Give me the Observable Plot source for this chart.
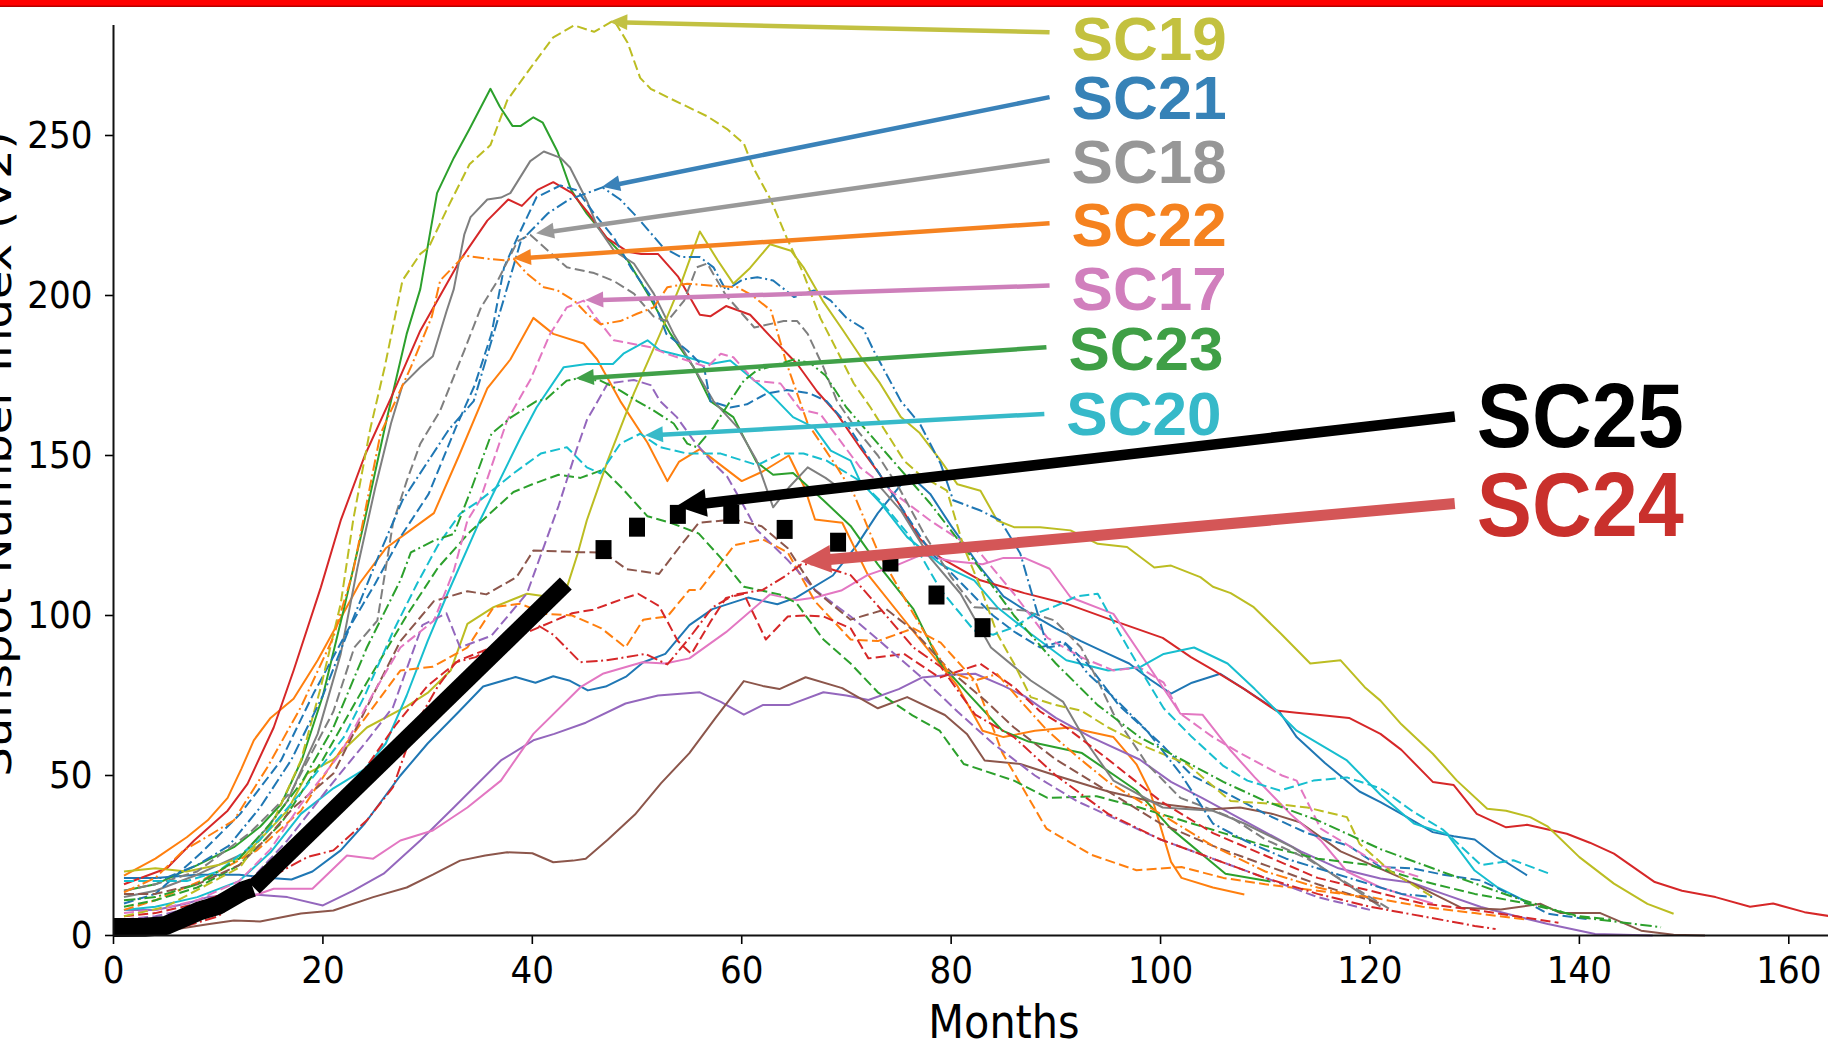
<!DOCTYPE html>
<html><head><meta charset="utf-8">
<script src="https://cdn.jsdelivr.net/npm/d3@7"></script>
<script src="https://cdn.jsdelivr.net/npm/@observablehq/plot@0.6"></script>
<style>
html,body{margin:0;padding:0;background:#fff;}
#wrap{position:relative;width:1828px;height:1043px;overflow:hidden;background:#fff;}
#topbar{position:absolute;left:0;top:0;width:1823px;height:7px;background:linear-gradient(#ff0000 0%,#ff0000 65%,#a00000 100%);z-index:2;}
#wrap svg{position:absolute;left:0;top:0;max-width:none;}
</style></head><body><div id="wrap"><div id="topbar"></div></div>
<script>
// ---- Solar cycles SC1..SC24: [month, sunspot number] ----
const sc01 = [[1,18],[4,18],[8,19],[12,19],[15,18],[17,17.5],[19,20],[21.7,26.6],[24,35],[27.4,50],[30,60],[33,70],[35.3,77.8],[38.4,80.8],[40.3,79],[42,81],[43.6,79.6],[45.3,76.6],[47,77.8],[49,81],[50.6,85.4],[52.7,88],[55,97],[57.2,102],[60.6,105.6],[63.4,103.5],[65.2,105.6],[68.7,112.5],[71,122],[73,132],[76,144],[78,138],[80,128],[82.8,115],[85,106],[87.6,100.5],[90,96],[92.4,92],[95,88],[97,85],[99,80],[101,75.6],[103,79],[105.7,81.8],[108,77],[111.4,69.7],[113,62],[115.7,53.9],[119,45],[121,41.7],[123,38],[126,32.3],[128,31],[130,30],[132,25],[135,18.8]];
const sc02 = [[1,18.7],[4,24],[7,30.7],[9,36],[10.9,43],[12.2,52],[13.4,61],[15,68],[17.2,74],[19.5,86],[21.5,98],[23.5,110],[26,121],[28.5,127],[30.6,132],[33,150],[35.7,171],[37.9,180],[40.1,193],[42,188],[44.9,185],[46.2,180],[48.4,167],[51,154],[52.9,142],[54,148],[56,152],[58,147],[60,142],[62,145],[64.5,150],[66,140],[67,130],[69.6,129],[72,113],[76.4,95],[80.6,78],[83,64],[85,62],[88,64],[91.3,65],[95.5,62],[97.7,53.5],[99,45],[101,23],[102,18],[105,15],[108,12.8]];
const sc03 = [[1,14],[4,16],[8,22],[11.5,27.6],[14,34],[16,41],[18,55],[20,75],[22,102],[24,130],[26,160],[28,188],[29.3,202],[30.9,232],[32.5,243],[34,252],[36,264.6],[36.9,259],[38.1,253],[38.9,253],[40.1,255.7],[41,254],[42.4,245],[43.7,233],[45.2,225.6],[47.1,218],[49.1,211],[51,200.6],[53.2,188],[55.4,177.6],[57,167],[59.2,162],[61.4,148],[63,144],[64.9,144.5],[67.8,136],[70.4,128],[73,116],[76.4,102],[78.9,85.4],[81.5,76],[84.9,64],[87.4,60.6],[92.5,57],[97.7,45.3],[101,33.4],[106.2,19.3],[110.5,16.9]];
const sc04 = [[1,16],[5.1,21],[7.7,29.7],[10.9,39],[12.8,47.4],[15.3,65],[17.2,82.8],[19.8,108.8],[21.7,129.7],[24,150],[26.5,168],[29.3,189],[33.1,211],[35.7,223.4],[37.7,230],[39,228],[40.5,233],[42,235.4],[43.8,232],[45.3,226],[47.1,218],[49.1,213.7],[50.4,213],[52,213],[53.9,206],[56,194],[57,193.5],[58.5,196.7],[60.8,194],[62.8,187],[65.3,178.6],[67.2,170],[69.1,163],[71.3,152.5],[73.2,144],[75,135],[77,124],[79,118],[82.8,111],[87,107],[91,103.7],[95.5,98.4],[100.2,93],[102.9,87],[105,83],[108,77],[111,70.3],[113,69.6],[115,69],[118,68],[121,63],[123,58],[126,48],[128,47],[130.2,38],[133,33.8],[135,34.6],[138.8,31.8],[141,29],[143.3,25.6],[147.2,16.7],[149.8,14],[153,12],[156.3,9],[158.5,10],[161.5,7.3],[164,6]];
const sc05 = [[1,8],[4,8],[7,10],[9,12],[12.8,13],[16.6,12],[20,9.4],[22.9,14],[25.8,19.3],[29.3,29.7],[32.5,40],[37,54.7],[40.1,61],[42.1,63],[45.1,66.5],[48.9,72.5],[52,75],[56,76],[58,73],[60.2,69],[62,72],[64.5,72],[67.8,76],[70,75],[72.1,73.6],[75,77],[77.2,80.6],[80,81.5],[82.3,81.8],[85,78],[87,74.8],[90,68],[93.4,61.9],[98,55],[101,48],[104,42.9],[108,35.8],[113.4,26.3],[117,21],[121,17.8],[124,16.5],[127,13],[130.6,8.9],[134,6],[137,3.6],[141.5,0.5],[147,0]];
const sc06 = [[1,0.5],[4,1],[6.4,2.2],[9,3.5],[11.5,4.7],[14,4.4],[17.9,6.9],[21,7.8],[24.8,12],[28,15],[30.5,19],[33.1,23.4],[35.5,25],[37.6,26],[40,25.7],[42,22.9],[43.9,23.4],[45.1,24],[47.2,29.9],[49.8,37.8],[52.3,47.6],[55,57],[57.5,68],[60.2,79.5],[62,78],[63.6,77],[66.1,80.7],[69.6,77.3],[73,71],[75.8,74.5],[79.4,68.9],[81.5,63],[83.2,54.7],[86.6,53.6],[90,50],[95,45],[100.3,41],[104.4,39.4],[107.6,40],[110.7,38],[113.3,35.4],[117.2,26.3],[123,18],[128.7,8.7],[132.5,8.1],[136.3,9.9],[138.2,7],[142,7],[145.9,1.5],[149,0.2],[152,0]];
const sc07 = [[1,1],[4,2],[8,5],[11,9],[13,12],[15.3,14.6],[19,14.6],[22.3,25],[24.8,24],[27.4,29.7],[30.5,32.8],[33.8,40],[37,48.4],[40.1,63],[44.6,77.6],[46.8,81.9],[50.5,85.4],[52.7,85],[55,86.6],[58.5,94.8],[62.7,106.6],[65.2,104.8],[67,105.6],[69.5,107.8],[72,112.6],[75,116],[77.2,119],[80,117],[83,116],[85,118],[87,118],[89.4,114.6],[91.4,105.7],[95.5,100.5],[98.7,85],[101.9,69.3],[104,69],[106.7,57.8],[109,49.4],[112.4,38],[115.3,29.7],[117.8,20],[121,15],[124,12],[126,10]];
const sc08 = [[1,12],[4,14],[8,19],[12.4,25.6],[14.5,33],[16.6,42],[19.5,63],[21.7,88],[23.3,115],[25,140],[26.5,160],[27.6,172],[29.3,177.6],[30.5,181],[31.8,195],[32.5,202],[33.5,219],[34.1,224.5],[35.7,230],[37,230.6],[37.9,232],[39.8,242],[41.1,245],[42.7,243],[43.6,240],[45.2,229.7],[46.2,221.6],[47.8,214],[49.7,210],[51.6,200.6],[53.5,188],[55.4,177.6],[57.3,167],[59.6,158.8],[61.4,148.6],[63,133.8],[64.5,140],[66.3,146.3],[68,143],[69.7,139],[71.5,140],[73,141],[75.2,132.8],[78,118],[80.9,106.8],[83.8,90],[87.6,79.7],[90.7,73],[93,60],[95.5,48.4],[100.2,40],[105,39],[108,35],[112.6,27.6],[116,20],[121,9]];
const sc09 = [[1,20],[4,21],[7,20],[10,22],[12.4,24.5],[16.6,39],[18.5,50.6],[21,55],[24.2,65],[28,71.6],[30,75.8],[32.2,82.8],[33.8,97.4],[36.3,102.6],[39.5,106.8],[42,105.6],[43.3,108.8],[44.3,119],[45.2,129.7],[47.2,148.4],[49.7,169.4],[52.2,188],[54.2,203.7],[56,220],[57.7,211],[59.2,203.7],[60.8,208.6],[62.7,216],[64.7,214],[65.9,208.8],[67.8,198],[69.7,189],[71.6,179.7],[73.2,172.6],[75.2,162],[77,157],[79,148.4],[80.6,141],[82.8,139],[84.4,129.7],[86,127.6],[88.5,127.6],[91.4,126.6],[94,122.4],[96.8,121.4],[99.4,115],[101,115.6],[103.8,112],[105,109],[106.7,107],[108.9,102.6],[111.5,94.3],[114.3,85],[117.2,86],[119.5,77.6],[121,73.4],[123,66],[126,56.8],[128.3,48.4],[131.2,39.6],[133,39],[135.3,37],[137,34],[140,24.5],[143.3,16.2],[146.5,9.9],[149,6.8]];
const sc10 = [[1,8],[4,9],[8,12],[12,17],[15,26],[17.9,38],[21,46],[24,52],[26,60],[28,75],[30,92],[31.9,106.8],[35,129.7],[38.9,155.7],[40.4,165],[43,177.6],[45.2,178.6],[47.7,178.6],[48.7,181.8],[51,186],[52.2,182.8],[54.8,180.7],[57,178.6],[58.9,179.7],[60.8,174.5],[62.7,169.4],[64.9,162],[66.9,158.8],[68.5,151.5],[70.4,148.4],[71.3,142],[73.3,135],[75.8,124.5],[79,116],[82.2,111],[84.4,102.6],[87.6,94.3],[91,86],[95,82.8],[98,83.8],[100.3,88],[103.2,90],[106.4,85],[109,77],[113,64],[117.8,54.7],[121,44],[124.2,35],[127.4,31.6],[130,20.3],[132.2,15],[134.7,11]];
const sc11 = [[1,10],[4,13],[8.3,25.6],[12.1,38],[16,54.7],[19.1,75.6],[22.3,95],[25,110],[27.5,125],[30.1,138],[32.7,158.8],[34.5,172],[36.1,188],[37.3,208.8],[38.7,219],[40.4,230.7],[42.7,234.4],[44.3,232.8],[45.9,225.6],[47.8,218],[49.4,208.8],[51.6,198.4],[52.8,188],[54.8,182.8],[56.4,177.6],[57,167],[58.9,165],[60.5,166],[62.4,169.4],[64.3,170.5],[66.5,169.4],[68.1,167],[70,160],[72,150],[74,140],[76,130],[78,120],[81,110],[84,100],[86,95],[88.5,90],[90.7,92],[93,85],[96,72],[100,60],[103,50],[106,45],[110,38],[114,32],[118,28],[121,21.4],[124,21],[127,19],[130.6,17.2],[134,12],[137,6.8],[141,5]];
const sc12 = [[1,8],[4,11],[8.3,17],[13.7,26.6],[17.9,39],[21.7,57.8],[24.5,70],[27.4,82.8],[30.5,84],[33.8,90],[36.3,102.6],[38.8,103.7],[41.3,100.5],[43.8,100],[46.6,96],[48.9,90],[50.6,98.7],[52.9,99.7],[55,108],[56,108],[59.3,122],[62,123.8],[64.4,119.7],[67,104.4],[70.4,92.5],[73,92],[76.4,96],[79,91.5],[82.3,79.5],[84.9,57],[89.1,33.4],[93.4,25.2],[97.7,20.4],[102,21.4],[106,18],[110,16],[115,14],[120,12],[125,9],[130,7],[135,5]];
const sc13 = [[1,9],[4,11],[8,15],[12,22],[16,35],[20,55],[24,78],[28,100],[31,115],[34,126],[36,132],[38.2,138.6],[40,141],[42.5,144],[44.6,143],[46.8,145.6],[48.6,139.7],[51,131],[53.2,129],[55.9,125.6],[58,118],[60.2,109],[63.6,106.6],[65.2,104],[67.8,92.5],[70.4,85],[73,76],[76.3,68.8],[78.9,64],[81.2,53.6],[86,48.4],[89.2,43],[93.9,43.5],[98,40],[102,36],[106,32],[110,28],[115,24],[120,22],[125,17],[130,13],[135,10],[140,6],[143,5]];
const sc14 = [[1,6],[4,7],[8,10],[12,15],[16,24],[20,36],[24,52],[27,66],[30,78],[33,86],[36.1,90],[40.4,96],[43.8,100.7],[45.8,101.8],[48.9,105.5],[50.1,106.8],[52.1,103],[53.9,92],[55.2,88],[57,98],[58.5,105.5],[60.2,106.8],[62.3,92.5],[64.4,99.7],[66,100],[67.8,99.7],[70.4,96],[72.1,86.6],[75.5,88],[78.9,80.6],[82.8,84.9],[86,77.6],[88.5,70],[91,65],[95,55],[100,42],[105,32],[110,25],[115,18],[120,14],[125,10],[130,8],[134,6],[138,4]];
const sc15 = [[1,5],[4,6],[8,9],[13,17],[16.6,29.7],[20.5,46],[24,60],[26.7,71.4],[29.5,97],[31.8,100.7],[33.1,90],[36.1,93.7],[39.5,107],[42.5,134.2],[44.2,151.6],[45.2,161],[47.2,172.5],[49.7,173.6],[51.3,172],[52.2,167],[53.8,162],[55.4,154.7],[57,148.6],[58.6,143.4],[59.9,136],[61.4,126.9],[64.4,117.3],[67,108],[70.4,99.7],[73,92.5],[77.2,80.6],[80.6,70],[84,60],[88,50],[92,42],[96,36],[100,30],[105,24],[110,18],[115,12],[120,8]];
const sc16 = [[1,13],[4,13],[8,16],[12,22],[14.5,30],[17.2,40],[21,50.6],[24.2,71.4],[27.4,92],[30.6,104.5],[33.8,107.6],[35.6,106.6],[38.5,112],[40.1,120.3],[44.6,119.8],[46.8,119.7],[49,114.5],[52.1,113],[54.2,122],[55.9,129],[59.3,130],[61.9,127.9],[64.4,121],[67,107.8],[70.4,98.7],[73.8,102],[76.4,95.3],[79.8,83],[83.2,73.6],[86,65],[90,55],[95,45],[100,35],[105,28],[110,22],[115,16],[121,10]];
const sc17 = [[1,7],[4,8],[8,11],[12,17],[15,27],[17.9,41],[21.7,57],[24.8,75.6],[27.4,90],[30.6,98.4],[32.5,114],[33.8,129.7],[35,136],[37.6,161],[39.8,173.6],[41.7,188],[43.3,196.3],[44.9,198.4],[46.1,193],[47.8,186],[49.4,185],[51.3,183.8],[52.8,181.8],[54.8,179.7],[56.7,177.6],[58,181.8],[59.2,180.7],[61.2,173.4],[63.7,172.5],[65.6,164.4],[67.5,163],[71.3,146.3],[73.8,140],[78,129.7],[82.8,119.4],[86,106.8],[89.2,93],[92.4,87],[95.5,82.8],[98,83.8],[100.3,79],[101.9,69.3],[105,62],[107.6,57],[111.6,50],[113,48.4],[115.3,33.4],[118,28],[121,22],[125,18]];
const sc18 = [[1,14],[4,16],[8,20],[13,32],[17,45],[21,70],[23,90],[25.2,98.4],[26.7,129],[28,142],[29.3,153.7],[31.2,164],[33.5,182.8],[35.1,196.3],[36.7,204.7],[38.6,217],[39.8,219],[41.5,214],[43.3,208.8],[45.9,207],[47.8,204.5],[49.7,200.6],[51.6,193.4],[52.9,192],[54.5,198.4],[55.7,208.8],[56.7,210],[58.5,200],[61.2,190],[64,192],[65.3,192],[66.3,188],[67.8,177.6],[69.1,167],[71,158],[73,150],[75,140],[77.5,125],[80,112],[82.2,102.6],[87,101.6],[89.9,98.4],[92.4,90],[94,79.7],[95.5,69.3],[98.7,53.6],[101.9,43],[106.7,37],[110,30],[114,24],[118,16],[122,8]];
const sc19 = [[1,6],[5,9],[9,16],[12.1,21.4],[15.3,36],[17.9,54.7],[19.8,77.6],[21.7,103.7],[22.9,130],[24.5,158],[25.9,177.6],[27.6,204.7],[29.3,213],[30.1,215],[32,228],[34,241],[36,247],[37.6,261],[39.8,271],[42,280.7],[44,284.4],[45.9,282.4],[47.8,286],[49.1,279],[50.3,268],[51.3,264.6],[52.9,262],[54.8,259],[56.7,256],[58.6,252],[60.2,247.5],[61.1,240],[62.8,229.7],[64.3,218],[65.9,206.8],[67.5,193],[69.1,182.8],[70.7,172.5],[72.3,165],[75.5,148.4],[77,144],[79.6,139],[81.2,121.4],[82.8,108.8],[84.4,94.3],[86,85],[87.6,74.5],[90,72],[92.4,70.3],[95,65],[98.7,58.8],[102.5,53.6],[106.7,42],[111.4,41],[114,40],[117.8,37],[119,28.7],[122,20],[126,12]];
const sc20 = [[1,17],[4,17],[7,17],[10,20],[14,30],[18,45],[22,62],[24,75],[26.7,95],[29,110],[31,122],[33.1,131.8],[35,136],[38.2,144.4],[40.8,150.6],[43.3,152.6],[45.2,146.3],[46.5,144.4],[48.4,153.7],[50.3,156.8],[52.2,152.6],[54.8,150.6],[58,150.6],[59.9,148.6],[61.5,147],[63.7,150.6],[65.9,150.6],[68.1,148.4],[71.3,142],[73.2,136],[76,125],[79,108],[82.2,95.3],[84,94],[86,96.3],[88,100.5],[90,103],[92,106],[94,106.8],[96,95],[98.7,79.7],[100.3,71],[103,62],[106,53],[108.3,48.4],[111.4,45.3],[114.6,48.4],[117.8,49.4],[121,46],[124,39],[127,33],[130.6,22],[133.7,23.5],[137,19.5]];
const sc21 = [[1,18],[5,18],[8,22],[11,28],[14,40],[17,55],[20,75],[23,100],[25.5,120],[27.6,136],[30,148],[32,158],[34.4,167],[37.2,198],[38.9,217],[41.5,225.7],[43.5,230],[45.9,232.8],[46.7,233.8],[48.4,230],[50,224.5],[52.5,215],[54.2,212],[56,212],[57.3,208.8],[58.5,201.6],[60.1,205],[61.5,205.7],[63,204.7],[65,199.5],[66.9,201.6],[68.5,198.4],[70,193],[71.6,189.7],[72.6,182.8],[75.2,167],[77,160],[79,147.4],[80.2,136],[82.8,132.8],[84.7,129.7],[86.6,119.4],[89.2,90],[91,91],[93,82],[95.5,74.5],[98.7,64],[101.9,50.6],[105,35],[108.2,29.4],[112,24],[116,20],[120,16],[123,13],[126,12]];
const sc22 = [[1,13.5],[4,18],[6.7,26.6],[9,31],[11.5,36],[14.7,52.6],[17.9,71.4],[21,93.2],[22.9,114],[25.5,156.8],[28.4,177.6],[30.4,193.4],[31.2,204.7],[33.5,212.5],[35.7,211.5],[37.3,211],[38.2,211.5],[39.5,206.8],[41.1,202.6],[42.4,201.6],[44,198.4],[45.2,194.3],[46.5,191],[48.4,192],[50,194.3],[51.6,196.3],[52.9,202.6],[54.8,203.7],[57.3,203],[59.6,202.6],[61,200],[62.8,195.3],[64.3,178.6],[66.3,160],[69.1,146.3],[70.7,138],[73,120],[76.4,100.5],[79.6,82.8],[82.2,79.6],[84.4,81.7],[86.6,73.4],[89.2,64],[92,56],[95,48],[100,38],[105,28],[110,20],[115,15],[119,12]];
const sc23 = [[1,11],[4,12],[8,16],[12,24],[15,35],[18,48],[21,65],[24.2,90],[27.4,111],[28.4,119.7],[30.6,123.4],[32.5,125.5],[34,138],[36.1,156.8],[38,162],[40.4,167],[41.3,167.6],[43.3,173.4],[44.2,174],[46.5,173.4],[48.4,170.3],[50,167],[51.6,164],[53.5,160],[54.8,153.7],[55.7,152.6],[57.3,158.8],[58.9,167],[60.2,173.4],[61.4,176.5],[63,178],[65,180],[66.5,179],[68,175],[70,165],[74,150],[78,135],[82,118],[86,100],[90,85],[94,72],[98,62],[102,55],[106,48],[110,42],[115,36],[121,27],[127.4,19.3],[133.7,12],[140,5.7],[147.8,2.6]];
const sc24 = [[1,2.5],[4,2.5],[7,3],[10,6],[13.4,15],[16,20],[18.5,24.5],[21,26.6],[24.2,36],[26.7,46.4],[28.7,65],[31,78],[32.7,85.4],[34.6,87],[36,90],[38.2,96],[40,98],[42,94],[44.6,85.4],[47,86],[49,87],[50.8,88],[52.9,84.7],[55,93],[57.2,102.5],[59.3,106.5],[62,108],[64,112],[65.7,116],[67,116],[70.4,112.6],[73,103],[76.4,90],[79,84],[82.3,69],[86,62],[90,50],[95,38],[100,30],[105,24],[110,18],[115,13],[120,9],[125,6],[130,3],[132,2]];

// ---- SC25: observed start, trend line and forecast squares ----
const sc25Observed = [[0,2.5],[3,2.6],[5,3.1],[8.3,7.8],[10,9.4],[12.4,14],[13.3,15]];
const sc25Trend = [[13.4,15],[43.2,110]];
const sc25Forecast = [[46.8,120.6],[50,127.6],[53.9,131.6],[59,131.6],[64.1,126.9],[69.2,122.9],[74.2,116.7],[78.6,106.4],[83,96.2]];

// ---- Annotations (data coordinates) ----
const labelNames = ["SC19","SC21","SC18","SC22","SC17","SC23","SC20","SC25","SC24"];
const arrowTipX  = [47.4,46.7,40.4,38.2,45.1,44.2,50.8,53.8,65.7];
const arrowTipY  = [285.4,233.8,219.3,211.5,198.4,174.0,156.2,134.0,116.7];
const arrowTailX = [89.4,89.4,89.4,89.4,89.4,89.1,88.9,128.1,128.1];
const arrowTailY = [282.3,262.0,242.2,222.6,203.1,183.8,163.0,162.2,135.0];
const labelY     = [280.5,262.0,241.9,222.2,202.3,183.6,163.1,162.3,134.4];

// ---- Ticks ----
const xTicks = [0,20,40,60,80,100,120,140,160];
const yTicks = [0,50,100,150,200,250];

// ---- Styles ----
const tab10 = ["#1f77b4","#ff7f0e","#2ca02c","#d62728","#9467bd","#8c564b","#e377c2","#7f7f7f","#bcbd22","#17becf"];
const dashStyles = {solid: null, dashed: "10,4.3", dashdot: "11.5,3.5,2,3.5"};
const seriesList = [sc01,sc02,sc03,sc04,sc05,sc06,sc07,sc08,sc09,sc10,sc11,sc12,sc13,sc14,sc15,sc16,sc17,sc18,sc19,sc20,sc21,sc22,sc23,sc24];
const arrowColors = ["#c2c142","#3a82b9","#999999","#f58220","#cd7fba","#40a048","#37bac9","#000000","#d45657"];
const textColors  = ["#c3c13f","#3682b7","#979797","#f5821f","#d17fbd","#3f9f46","#36b9c9","#000000","#c9302c"];
const arrowWidths = [4.5,4.5,4.5,4.5,4.5,4.5,4.5,10.5,11];
const headLens    = [18,18,18,18,18,18,18,30,30];
const headHalfW   = [8,8,8,8,8,8,8,14,14];
const labelSizes  = [62,62,62,62,62,62,62,90,90];

const annotations = labelNames.map((name,i)=>({name, tipX:arrowTipX[i], tipY:arrowTipY[i], tailX:arrowTailX[i], tailY:arrowTailY[i], labelY:labelY[i], i}));

const tickFont = "'DejaVu Sans Condensed','DejaVu Sans',sans-serif";
const labelFont = "'Liberation Sans',Arial,Helvetica,sans-serif";

const cycleMarks = seriesList.map((s,i)=>{
  const style = i < 10 ? "solid" : (i < 20 ? "dashed" : "dashdot");
  return Plot.line(s, {x: d=>d[0], y: d=>d[1], stroke: tab10[i%10], strokeWidth: 2,
    strokeDasharray: dashStyles[style], strokeLinejoin: "round", strokeLinecap: "butt"});
});

const squareSymbol = {draw(ctx){ ctx.rect(-8,-9.5,16,19); }};

const arrowMarks = annotations.map(a => Plot.arrow([a], {
  x1: "tailX", y1: "tailY", x2: "tipX", y2: "tipY",
  stroke: arrowColors[a.i], strokeWidth: arrowWidths[a.i], strokeLinecap: "butt",
  headLength: 0, insetEnd: headLens[a.i] - 2, insetStart: 0
}));

const textMarks = annotations.map(a => Plot.text([a], {
  x: "tailX", y: "labelY", text: "name", fill: textColors[a.i],
  textAnchor: "start", lineAnchor: "middle", dx: 22, dy: 2,
  fontSize: labelSizes[a.i], fontWeight: "bold", fontFamily: labelFont
}));

const plot = Plot.plot({
  width: 1893, height: 1043,
  marginLeft: 113, marginRight: 0, marginTop: 25, marginBottom: 108,
  x: {domain: [0,170]},
  y: {domain: [0,284.375]},
  style: {background: "white", fontFamily: tickFont, fontSize: "38px", color: "black", maxWidth: "none", overflow: "visible"},
  marks: [
    Plot.axisX({ticks: xTicks, tickSize: 9, tickPadding: 12, fontSize: 38, label: null, strokeWidth: 1.6, fontFamily: tickFont}),
    Plot.axisY({ticks: yTicks, tickSize: 8, tickPadding: 13, fontSize: 38, label: null, strokeWidth: 1.6, fontFamily: tickFont}),
    ...cycleMarks,
    Plot.line(sc25Observed, {x: d=>d[0], y: d=>d[1], stroke: "black", strokeWidth: 19, strokeLinecap: "butt", strokeLinejoin: "round"}),
    Plot.line(sc25Trend, {x: d=>d[0], y: d=>d[1], stroke: "black", strokeWidth: 17, strokeLinecap: "butt"}),
    Plot.dot(sc25Forecast, {x: d=>d[0], y: d=>d[1], symbol: squareSymbol, fill: "black", stroke: null}),
    Plot.ruleX([0], {strokeWidth: 2, stroke: "#111"}),
    Plot.ruleY([0], {strokeWidth: 2, stroke: "#111"}),
    ...arrowMarks,
    ...textMarks
  ]
});

plot.style.maxWidth = "none";
document.getElementById("wrap").appendChild(plot);

// arrowheads, drawn from Plot's own scales
const X = plot.scale("x"), Y = plot.scale("y");
const svg = d3.select(plot);
const heads = svg.append("g");
annotations.forEach(a => {
  const tx = X.apply(a.tipX), ty = Y.apply(a.tipY), sx = X.apply(a.tailX), sy = Y.apply(a.tailY);
  const ang = Math.atan2(ty - sy, tx - sx), c = Math.cos(ang), s = Math.sin(ang);
  const L = headLens[a.i], W = headHalfW[a.i];
  const bx = tx - L*c, by = ty - L*s;
  heads.append("polygon")
    .attr("points", [[tx,ty],[bx - W*s, by + W*c],[bx + W*s, by - W*c]].map(p=>p.join(",")).join(" "))
    .attr("fill", arrowColors[a.i]);
});

// big labels slightly condensed like the reference
svg.selectAll("text").filter(function(){ return this.textContent === "SC25" || this.textContent === "SC24"; })
  .attr("textLength", 207).attr("lengthAdjust", "spacingAndGlyphs");

// axis titles
svg.append("text")
  .attr("transform", "translate(11,454) rotate(-90) scale(1,0.88)")
  .attr("text-anchor", "middle")
  .style("font-family", "'DejaVu Sans',sans-serif").style("font-size", "46.5px")
  .attr("fill", "black")
  .text("Sunspot Number Index (V2)");
svg.append("text")
  .attr("x", 1004).attr("y", 1038)
  .attr("text-anchor", "middle")
  .style("font-family", tickFont).style("font-size", "46px")
  .attr("fill", "black")
  .text("Months");
</script>
</body></html>
